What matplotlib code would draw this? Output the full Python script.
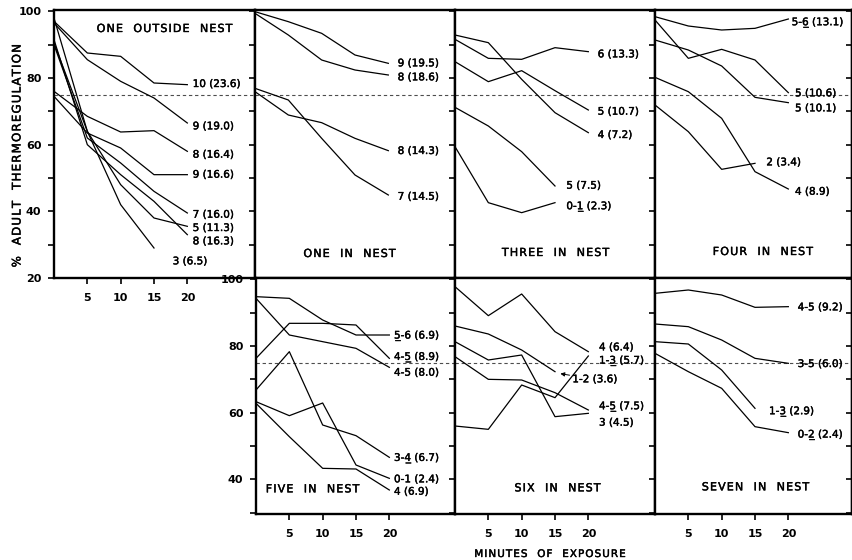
import matplotlib
matplotlib.use('Agg')
import matplotlib.pyplot as plt
import matplotlib.patheffects as pe
from matplotlib.ticker import MultipleLocator, FixedLocator

# figure geometry (pixels of the 853 x 560 image)
W, H = 853, 560
PX_MIN = 200 / 30.      # px per minute

U = '\u0332'            # combining underline

# heavier strokes, like the ink lettering of the original
ink = [pe.withStroke(linewidth=0.3, foreground='black')]


def spaced(s):
    # old lettering-guide look: a little air between the letters
    return '\u200a'.join(s)


t5 = [0, 5, 10, 15, 20]
t4 = [0, 5, 10, 15]

# ---------------- data ----------------
# ONE OUTSIDE NEST
outside_names = ['10 (23.6)', '9 (19.0)', '8 (16.4)', '9 (16.6)',
                 '7 (16.0)', '5 (11.3)', '8 (16.3)', '3 (6.5)']
outside_vals = [[97, 87.5, 86.5, 78.5, 78],
                [96.5, 85.5, 79, 74, 66.5],
                [76, 68.5, 63.8, 64.2, 58],
                [74.5, 63.5, 59, 51, 51],
                [90, 62, 54.5, 46, 39.5],
                [98, 64, 48, 38, 35.5],
                [91.5, 60, 51, 43, 33],
                [90.5, 64, 42, 29]]

# ONE IN NEST
one_names = ['9 (19.5)', '8 (18.6)', '8 (14.3)', '7 (14.5)']
one_vals = [[99.9, 96.9, 93.4, 86.9, 84.4],
            [99.4, 92.9, 85.4, 82.4, 80.9],
            [75.9, 68.9, 66.6, 61.9, 58.2],
            [76.9, 73.4, 61.9, 50.9, 44.9]]

# THREE IN NEST
three_names = ['6 (13.3)', '5 (10.7)', '4 (7.2)', '5 (7.5)', '0-1' + U + ' (2.3)']
three_vals = [[91.6, 85.9, 85.6, 89.1, 87.9],
              [84.9, 78.9, 82.2, 76.2, 70.4],
              [92.9, 90.6, 79.6, 69.6, 63.6],
              [71.2, 65.6, 57.9, 47.6],
              [59.4, 42.6, 39.6, 42.6]]

# FOUR IN NEST
four_names = ['5-6' + U + ' (13.1)', '5 (10.6)', '5 (10.1)', '2 (3.4)', '4 (8.9)']
four_vals = [[98.4, 95.6, 94.4, 94.9, 97.7],
             [97.4, 85.9, 88.6, 85.4, 75.6],
             [91.4, 88.4, 83.6, 74.2, 72.6],
             [71.9, 63.9, 52.6, 54.4],
             [80.2, 75.9, 67.9, 51.9, 46.7]]

# FIVE IN NEST
five_names = ['5' + U + '-6 (6.9)', '4-5' + U + ' (8.9)', '4-5 (8.0)',
              '3-4' + U + ' (6.7)', '0-1 (2.4)', '4 (6.9)']
five_vals = [[94.8, 94.3, 87.8, 83.3, 83.3],
             [76.3, 86.8, 86.8, 86.3, 76.3],
             [94.3, 83.3, 81.3, 79.3, 73.6],
             [66.8, 78.3, 56.3, 53.1, 46.6],
             [63.3, 59.1, 62.9, 44.3, 40.3],
             [62.8, 52.8, 43.3, 43.1, 36.8]]

# SIX IN NEST
six_names = ['4 (6.4)', '1-3' + U + ' (5.7)', '1-2 (3.6)', '4-5' + U + ' (7.5)', '3 (4.5)']
six_vals = [[97.8, 89.1, 95.6, 84.3, 78.3],
            [56.0, 55.0, 68.3, 64.5, 77.0],
            [86.0, 83.6, 78.8, 72.3],
            [76.8, 70.0, 69.8, 66.0, 60.8],
            [81.3, 75.8, 77.3, 58.8, 59.8]]

# SEVEN IN NEST
seven_names = ['4-5 (9.2)', '3-5 (6.0)', '1-3' + U + ' (2.9)', '0-2' + U + ' (2.4)']
seven_vals = [[95.8, 96.8, 95.3, 91.6, 91.8],
              [86.6, 85.8, 81.8, 76.3, 74.8],
              [81.3, 80.6, 72.8, 61.3],
              [77.8, 72.3, 67.3, 55.8, 54.0]]

# label anchor (minute, value) for each line
outside_lab = [(20.8, 78.2), (20.8, 65.5), (20.8, 57), (20.8, 51), (20.8, 39),
               (20.8, 35), (20.8, 31), (17.8, 25)]
one_lab = [(21.4, 84.4), (21.4, 80.2), (21.4, 58.1), (21.4, 44.4)]
three_lab = [(21.4, 87.1), (21.4, 69.9), (21.4, 62.9), (16.7, 47.7), (16.7, 41.4)]
four_lab = [(20.5, 96.6), (21.0, 75.4), (21.0, 70.9), (16.7, 54.7), (21.0, 45.9)]
five_lab = [(20.7, 83), (20.7, 76.6), (20.7, 72), (20.7, 46.3), (20.7, 40), (20.7, 36.3)]
six_lab = [(21.6, 79.6), (21.6, 75.5), (17.6, 70), (21.6, 61.8), (21.6, 57)]
seven_lab = [(21.4, 91.6), (21.4, 74.6), (17.1, 60.3), (21.4, 53.3)]

# panel boxes in image pixels: x0, x1, y_top, y_bottom
TOP = (10, 278)
BOT = (278, 514)
panels = [
    ('ONE  OUTSIDE  NEST', (54, 255), TOP, (20, 100.4), outside_names, outside_vals, outside_lab, (16.6, 94.7)),
    ('ONE  IN  NEST', (255, 455), TOP, (20, 100.4), one_names, one_vals, one_lab, (14.2, 27.2)),
    ('THREE  IN  NEST', (455, 655), TOP, (20, 100.4), three_names, three_vals, three_lab, (15.1, 27.5)),
    ('FOUR  IN  NEST', (655, 852), TOP, (20, 100.4), four_names, four_vals, four_lab, (16.2, 27.8)),
    ('FIVE  IN  NEST', (256, 455), BOT, (29.6, 100.4), five_names, five_vals, five_lab, (8.5, 37.0)),
    ('SIX  IN  NEST', (455, 655), BOT, (29.6, 100.4), six_names, six_vals, six_lab, (15.4, 37.3)),
    ('SEVEN  IN  NEST', (655, 852), BOT, (29.6, 100.4), seven_names, seven_vals, seven_lab, (15.1, 37.6)),
]

fs_lab = 7.5
fs_tick = 8

fig = plt.figure(figsize=(W / 100, H / 100), dpi=100)

for k, (title, (x0, x1), (yt, yb), ylim, names, vals, labs, tpos) in enumerate(panels):
    ax = fig.add_axes([x0 / W, 1 - yb / H, (x1 - x0) / W, (yb - yt) / H])
    ax.set_xlim(0, (x1 - x0) / PX_MIN)
    ax.set_ylim(*ylim)
    for s in ax.spines.values():
        s.set_linewidth(1.7)

    ax.axhline(75, color='0.3', lw=0.8, ls=(0, (3, 2.5)), zorder=1)

    for name, v, (lx, ly) in zip(names, vals, labs):
        t = t5 if len(v) == 5 else t4
        ax.plot(t, v, color='black', lw=0.9, zorder=2)
        if name.startswith('1-2'):
            ax.annotate(name, xy=(t[-1] + 0.8, v[-1] - 0.6), xytext=(lx, ly),
                        fontsize=fs_lab, va='center', ha='left', path_effects=ink,
                        arrowprops=dict(arrowstyle='-|>', lw=0.7, color='black',
                                        mutation_scale=6, shrinkA=0, shrinkB=0))
        else:
            ax.text(lx, ly, name, fontsize=fs_lab, va='center', ha='left',
                    path_effects=ink)

    ax.text(tpos[0], tpos[1], spaced(title), fontsize=fs_lab + 0.5,
            ha='center', va='center', path_effects=ink)

    # ticks
    ax.xaxis.set_major_locator(FixedLocator([5, 10, 15, 20]))
    ax.yaxis.set_major_locator(MultipleLocator(10))
    ax.tick_params(axis='x', direction='out', length=4, width=1.2,
                   labelsize=fs_tick, pad=7)
    ax.tick_params(axis='y', direction='out', length=4, width=1.2,
                   labelsize=fs_tick, pad=5)
    for lb in ax.get_xticklabels() + ax.get_yticklabels():
        lb.set_fontweight('bold')

    if k in (0, 4):
        ax.yaxis.set_major_formatter(plt.FuncFormatter(lambda v, p: '%d' % v if v % 20 == 0 else ''))
    else:
        ax.tick_params(axis='y', labelleft=False)
    if k in (1, 2, 3):
        ax.tick_params(axis='x', labelbottom=False)

    if k in (3, 6):
        ax2 = ax.secondary_yaxis('right')
        ax2.yaxis.set_major_locator(MultipleLocator(10))
        ax2.tick_params(direction='in', length=4, width=1.2, labelright=False)
        ax2.spines['right'].set_linewidth(1.7)

fig.text(17 / W, 1 - 157 / H, spaced('%  ADULT  THERMOREGULATION'), rotation=90,
         fontsize=8.5, ha='center', va='center', path_effects=ink)
fig.text(549 / W, 1 - 554 / H, spaced('MINUTES  OF  EXPOSURE'), fontsize=7.5,
         ha='center', va='center', path_effects=ink)

fig.savefig('out.png', dpi=100)
